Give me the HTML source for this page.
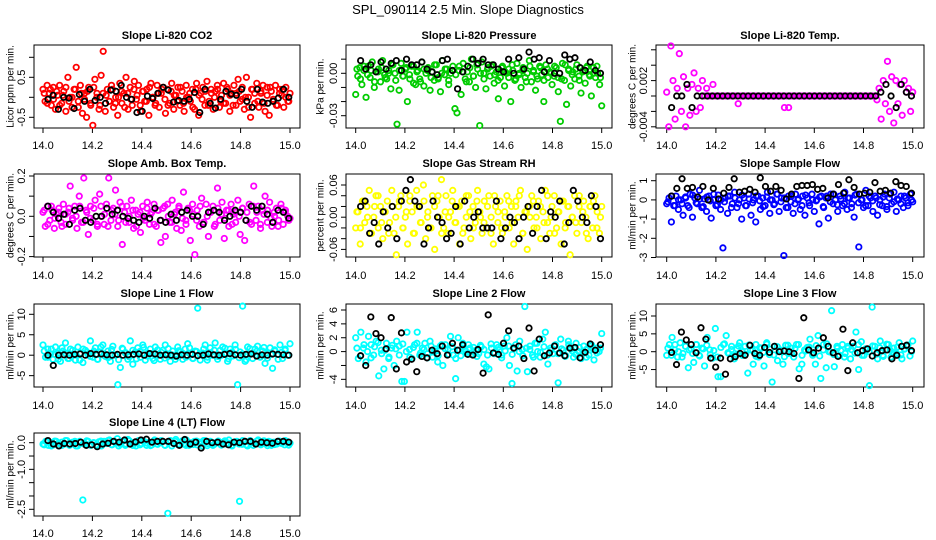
<!DOCTYPE html>
<html><head><meta charset="utf-8"><style>
html,body{margin:0;padding:0;background:#fff}
svg{display:block;font-family:"Liberation Sans",sans-serif}
</style></head><body>
<svg id="c" width="936" height="540" viewBox="0 0 936 540">
<text x="468" y="14" text-anchor="middle" font-size="13">SPL_090114  2.5 Min. Slope Diagnostics</text>
</svg>
<script>
const xTicks=[14.0,14.2,14.4,14.6,14.8,15.0];
const xTickLabels=["14.0","14.2","14.4","14.6","14.8","15.0"];
const co2Color=[0.2,-0.1,0.3,0.1,-0.2,0.25,-0.3,0.05,0.3,-0.15,0.15,-0.35,0.5,0.0,-0.25,0.2,0.75,-0.1,0.3,-0.4,0.1,-0.5,0.25,-0.2,-0.7,0.45,0.1,-0.3,0.55,1.15,-0.35,0.2,-0.1,0.3,-0.25,0.0,-0.45,0.35,-0.15,0.1,0.5,-0.3,0.25,-0.2,0.4,-0.05,0.3,-0.35,0.15,-0.1,0.2,-0.45,0.35,0.0,-0.2,0.3,-0.25,0.1,0.25,-0.4,0.2,-0.15,0.35,-0.3,0.05,0.25,-0.2,0.15,-0.35,0.3,0.0,-0.1,0.2,-0.3,0.35,-0.45,0.1,0.25,-0.2,0.4,-0.1,0.2,-0.3,0.15,0.3,-0.25,0.05,0.35,-0.15,0.2,-0.35,0.1,0.3,-0.2,0.45,-0.1,0.25,-0.3,0.5,0.0,-0.5,0.2,-0.15,0.35,-0.25,0.1,0.3,-0.35,0.25,-0.45,0.15,-0.1,0.3,-0.2,0.2,0.05,-0.25,0.25,-0.1,0.1];
const co2Band=[0.1,-0.15,0.2,-0.05,0.15,-0.2,0.05,0.25,-0.1,0.0,0.2,-0.25,0.1,-0.05,0.15,-0.15,0.25,0.0,-0.2,0.1,0.05,-0.1,0.2,-0.15,0.0,0.15,-0.25,0.1,-0.05,0.2,0.05,-0.2,0.15,-0.1,0.25,0.0,-0.15,0.1,0.2,-0.05,-0.2,0.15,0.05,-0.1,0.25,-0.15,0.0,0.1,-0.25,0.2,0.05,-0.05,0.15,-0.2,0.1,0.0,0.2,-0.1,-0.15,0.25,0.05,-0.2,0.1,0.15,-0.05,0.0,-0.25,0.2,0.1,-0.1,0.15,-0.15,0.05,0.25,-0.05,-0.2,0.1,0.2,0.0,-0.1];
const co2Black=[-0.05,0.05,-0.3,0.0,-0.02,-0.28,0.07,-0.1,0.2,-0.08,0.0,-0.15,0.18,0.15,0.3,0.0,-0.05,-0.38,-0.35,0.03,-0.03,0.1,0.25,0.18,-0.12,-0.08,-0.1,-0.05,0.12,-0.38,0.2,-0.15,-0.27,-0.05,0.15,0.08,0.05,0.2,-0.1,-0.25,0.2,-0.12,-0.15,-0.1,-0.02,0.2,0.0];
const presColor=[-0.015,-0.002,0.004,-0.008,0.002,-0.017,0.005,-0.003,0.008,-0.01,0.001,0.003,-0.006,0.009,-0.001,-0.004,0.002,-0.011,0.006,0,-0.036,-0.012,0.007,-0.002,0.003,-0.02,-0.001,0.005,-0.007,-0.008,0.002,-0.004,0.008,-0.009,0,0.004,-0.012,0.001,-0.005,0.006,-0.003,-0.013,0.009,-0.001,0.003,-0.008,0,0.005,-0.025,-0.028,0.002,-0.015,0.007,-0.004,0.001,-0.006,0.01,-0.002,-0.01,0.003,-0.037,0.008,0,-0.011,0.004,-0.002,0.006,-0.007,0.001,-0.018,-0.003,0.005,-0.009,0,0.003,-0.02,0.002,-0.005,0.007,-0.001,-0.01,0.004,-0.003,0,0.009,-0.006,0.002,-0.012,-0.004,0.005,-0.001,-0.02,0.006,-0.003,0.001,-0.008,-0.002,0.004,-0.013,-0.034,0.007,-0.005,-0.022,0.003,-0.009,0.001,-0.004,0.006,-0.002,-0.014,0.002,-0.007,0.005,-0.001,-0.016,0.004,-0.003,0,-0.008,-0.023];
const presBand=[0.003,-0.004,0.005,-0.001,0.002,-0.006,0.001,0.004,-0.003,0,0.006,-0.005,0.002,-0.002,0.004,-0.004,0.005,0.001,-0.006,0.003,0.002,-0.003,0.006,-0.004,0,0.003,-0.005,0.002,-0.001,0.005,0.001,-0.006,0.004,-0.002,0.006,0,-0.004,0.003,0.005,-0.001,-0.005,0.004,0.001,-0.003,0.006,-0.004,0,0.002,-0.006,0.005,0.001,-0.002,0.004,-0.005,0.003,0,0.005,-0.003,-0.004,0.006,0.002,-0.001,0.003,-0.005,0.001,0.004,-0.002,0,0.005,-0.003];
const presBlack=[0.009,0.003,0.006,0.001,0.008,0.003,0.007,0.009,0.002,0.01,0.006,0.006,0.008,0.003,0.001,-0.001,0.009,0.01,0.002,-0.011,0.001,0.005,0.01,0.007,0.01,0.006,0.006,0.003,0.001,0.01,0,0.011,0.003,0.015,0.01,0.011,0.001,0.009,0,0,0.013,0.01,0.011,0.004,0.002,0.008,0.002,0];
const tempColor=[0.0005,-0.004,0.0065,0.002,-0.003,0.001,0.0055,-0.002,0.0025,-0.004,0.001,-0.0025,0.0015,0.003,-0.002,0.001,-0.0015,0.002,0,0.001,0,0,0.0015,0,0,0,0,0,0,0,0,0,0,0,-0.001,0,0,0,0,0,0,0,0,0,0,0,0,0,0,0,0,0,0,0,0,0,-0.0015,0,-0.0015,0,0,0,0,0,0,0,0,0,0,0,0,0,0,0,0,0,0,0,0,0,0,0,0,0,0,0,0,0,0,0,0,0,0,0,0,0,0,0,0,0,-0.0005,0.001,-0.003,0.002,-0.001,0.0045,-0.002,0.0025,-0.0035,0.002,-0.001,0.0015,-0.0025,0.002,0.0005,0.001,-0.002,0.0005];
const tempBand=[];
const tempBlack=[-0.0015,0,0,0.0015,-0.0015,0,0,0,0,0,0,0,0,0,0,0,0,0,0,0,0,0,0,0,0,0,0,0,0,0,0,0,0,0,0,0,0,0,0,0,0,0.0005,0.0015,0,-0.0015,0.0015,0.0005,0];
const ambColor=[0.02,-0.05,0.05,-0.02,0.03,-0.06,0.01,0.04,-0.03,0.06,-0.04,0.02,0.15,-0.01,0.05,-0.06,0.1,-0.03,0.19,0.03,-0.09,0.05,-0.02,0.08,-0.05,0.11,0.0,-0.04,0.06,0.19,-0.02,0.04,0.13,-0.05,0.07,-0.14,0.02,0.05,-0.03,0.08,-0.06,0.03,0.01,-0.08,0.05,-0.02,0.07,-0.04,0.02,0.06,-0.05,0.03,-0.13,0.04,-0.1,0.06,-0.03,0.08,0.01,-0.06,0.05,-0.07,0.12,-0.02,0.04,-0.12,0.06,-0.19,0.03,-0.05,0.09,-0.03,0.06,-0.1,0.02,0.05,-0.04,0.14,-0.02,0.07,-0.11,0.03,-0.05,0.06,0.01,-0.03,0.08,-0.09,0.04,-0.12,0.02,0.06,-0.04,0.15,-0.02,0.05,-0.06,0.03,0.1,-0.03,0.07,-0.05,0.02,0.04,-0.02,0.06,-0.04,0.03,0.0,-0.01];
const ambBand=[0.03,-0.04,0.05,-0.01,0.02,-0.05,0.01,0.04,-0.02,0.0,0.05,-0.03,0.02,-0.01,0.04,-0.04,0.05,0.01,-0.05,0.03,0.01,-0.02,0.05,-0.03,0.0,0.03,-0.05,0.02,-0.01,0.04,0.01,-0.04,0.03,-0.02,0.05,0.0,-0.03,0.02,0.04,-0.01,-0.04,0.03,0.01,-0.02,0.05,-0.03,0.0,0.02,-0.05,0.04,0.01,-0.01,0.03,-0.04,0.02,0.0,0.04,-0.02,-0.03,0.05,0.02,-0.04,0.01,0.03,-0.01,0.0,-0.05,0.04,0.02,-0.02];
const ambBlack=[0.05,0.02,-0.01,0.01,-0.04,0.03,0.04,-0.02,-0.03,0.0,0.0,0.04,0.01,0.03,0.0,-0.01,-0.02,-0.03,0.0,-0.01,0.04,-0.02,-0.03,0.01,-0.02,0.02,0.03,0.0,0.0,-0.04,0.02,0.03,0.02,-0.02,0.0,0.03,0.02,-0.02,0.05,0.03,0.05,0.01,-0.03,0.03,0.02,-0.01];
const rhColor=[-0.02,0.01,-0.05,0.03,-0.01,0.02,0.05,-0.03,0.0,0.04,-0.02,0.02,-0.04,0.01,0.03,-0.01,0.05,-0.03,-0.07,0.02,0.04,-0.02,0.0,-0.05,0.03,0.01,-0.03,0.05,0.02,-0.01,0.06,-0.04,0.01,-0.02,0.04,-0.06,0.03,0.0,0.07,-0.02,0.04,-0.03,0.01,0.05,-0.01,0.02,-0.05,0.03,-0.02,0.0,0.04,-0.04,0.02,-0.01,0.05,0.01,-0.03,0.03,-0.02,0.04,0.0,-0.05,0.02,-0.01,0.03,-0.03,0.01,0.04,-0.02,0.02,-0.05,0.03,0.0,0.05,-0.03,0.01,-0.06,0.02,0.04,-0.02,0.0,0.03,-0.04,0.01,0.05,-0.01,-0.03,0.02,0.04,-0.02,0.01,-0.05,0.03,-0.01,0.02,-0.07,0.0,0.04,-0.03,0.02,-0.01,0.03,0.0,-0.04,0.02,-0.02,0.04,0.01,-0.03,0.02];
const rhBand=[0.01,-0.02,0.03,0.0,-0.03,0.02,0.04,-0.01,0.01,-0.03,0.02,0.0,0.03,-0.02,0.01,0.04,-0.03,0.02,-0.01,0.03,0.0,-0.02,0.02,0.04,-0.03,0.01,0.0,0.03,-0.01,0.02,-0.03,0.04,0.01,-0.02,0.03,0.0,-0.01,0.02,-0.03,0.04,0.01,-0.02,0.0,0.03,-0.01,0.02,0.04,-0.03,0.01,0.0,0.03,-0.02,0.02,-0.01,0.04,0.0,-0.03,0.01,0.03,-0.02,0.02,0.0,-0.01,0.04,0.01,-0.03,0.02,0.03,-0.02,0.0];
const rhBlack=[0.02,0.03,-0.03,-0.01,-0.05,0.01,-0.02,0.02,-0.04,0.03,0.05,0.07,0.03,0.02,-0.05,-0.02,0.03,0.0,-0.01,-0.04,-0.03,0.02,-0.05,0.03,-0.02,0.0,0.01,-0.02,-0.02,-0.02,0.03,-0.04,-0.02,0.0,-0.01,-0.04,0.0,0.02,-0.03,0.02,0.05,-0.04,0.01,0.0,0.03,-0.05,-0.01,0.05,0.03,0.0,-0.01,0.04,0.02,-0.04];
const flowColor=[-0.2,0.1,-1.15,-0.3,0.2,-0.5,0.0,-0.8,0.15,-0.3,0.3,-0.9,0.1,-0.2,0.5,-0.4,0.05,-0.6,0.2,-0.95,0.0,-0.3,0.25,-0.5,-2.5,0.1,-0.7,0.2,-0.2,0.4,-0.4,0.0,-1.0,0.1,-0.3,0.3,-0.8,0.0,-1.15,0.2,-0.5,0.1,-0.3,0.4,-0.7,0.0,-0.2,0.3,-0.6,0.1,-2.9,-0.4,0.2,-0.1,-0.7,0.3,0.0,-0.5,0.2,-0.8,0.1,-0.3,0.3,-0.6,0.0,-1.25,0.2,-0.4,0.1,-0.95,0.3,-0.2,0.0,-0.6,0.2,-0.3,0.4,-0.5,0.1,-0.2,-0.9,0.3,-2.45,0.0,-0.4,0.5,-0.3,0.1,-0.6,0.2,-0.8,0.0,-0.3,0.3,-0.5,0.1,-0.2,0.4,-0.6,0.0,0.2,-0.4,0.1,-0.3,0.3,-0.1];
const flowBand=[-0.1,0.2,-0.3,0.0,-0.2,0.1,-0.4,0.25,-0.15,0.05,-0.35,0.15,-0.05,0.3,-0.25,0.0,-0.1,0.2,-0.4,0.1,-0.2,0.25,-0.3,0.05,-0.15,0.2,-0.05,-0.35,0.15,0.0,-0.25,0.3,-0.1,0.1,-0.4,0.2,-0.2,0.05,-0.3,0.25,-0.15,0.0,-0.05,0.15,-0.35,0.2,-0.1,0.3,-0.25,0.05,-0.2,0.1,-0.4,0.25,-0.15,0.0,-0.3,0.2,-0.05,0.1,-0.25,0.15,-0.35,0.3,-0.1,0.05,-0.2,0.2,-0.15,0.0];
const flowBlack=[0.2,0.6,1.1,0.6,0.65,0.15,0.7,0.0,0.6,0.05,0.35,0.65,1.1,0.4,0.45,0.55,0.4,1.15,0.7,0.45,0.7,0.5,0.05,0.3,0.7,0.75,0.75,0.8,0.55,0.6,0.1,0.3,0.8,0.35,1.05,0.65,0.3,0.35,0.4,0.9,0.45,0.5,0.35,0.95,0.75,0.7,0.35];
const line1Color=[2.5,-0.5,1.5,0.3,-1.0,2.0,0.5,-1.5,1.0,3.0,-0.8,1.5,0.0,-1.2,2.0,0.5,-1.8,1.2,0.2,3.5,-0.5,1.8,-1.0,0.8,2.5,-0.3,1.0,-1.5,2.2,0.0,-7.2,-3.0,1.5,0.5,-1.0,3.5,-2.2,0.8,1.8,-0.5,2.5,-1.2,0.5,1.5,-0.8,2.0,0.2,-1.0,1.2,2.5,0.0,-1.5,1.0,-0.3,2.0,0.8,-1.0,1.5,2.8,0.3,-0.8,1.0,11.5,-1.2,0.5,2.5,-0.5,1.8,0.0,3.0,-1.0,1.2,2.0,0.5,-1.5,1.5,-0.2,2.5,-7.2,0.8,12.0,-1.5,2.0,0.3,-0.8,1.5,2.2,-0.5,1.0,-2.0,0.5,1.8,-3.2,1.0,0.2,2.5,-0.8,1.2,0.0,2.8];
const line1Band=[1.0,-0.5,1.5,0.2,-1.0,1.8,0.5,-0.8,1.2,0.0,-1.2,1.5,0.8,-0.3,1.0,-1.0,2.0,0.3,-0.6,1.4,0.0,-1.1,1.7,0.6,-0.4,1.2,-0.9,0.9,1.9,-0.2,0.4,-1.3,1.3,0.7,-0.7,1.6,0.1,-1.0,1.1,0.5,-0.5,1.8,-0.8,0.9,0.2,1.5,-1.2,0.6,1.2,-0.3,0.0,1.7,-0.9,0.8,1.4,-0.6,0.3,-1.1,1.6,0.5,1.0,-0.4,1.9,-0.7,0.2,1.3,-1.0,0.7,1.5,0.0];
const line1Black=[0,-2.5,0,0.1,0,0.2,0.3,0,0.4,0.2,0.3,0.1,0,0.2,0,0.1,0.2,0.3,0,0.4,0.3,0,0.1,0,-0.2,0.1,0,0.2,-0.1,0,0.3,0.1,0,0.2,0.4,0.1,0,0.2,0.3,-0.2,0.1,0,0.3,0.2,0.1,0];
const line2Color=[2.0,-1.0,2.8,0.5,-1.5,2.2,1.0,-0.5,1.5,-3.5,0.2,-2.5,1.2,-0.8,0.5,-2.0,1.5,0.8,-4.3,-4.3,2.8,0.3,-1.0,1.0,2.8,-0.5,0.5,1.2,-0.3,1.5,-0.8,0.4,-1.5,0.8,-2.0,1.0,0.3,2.2,-0.5,-3.9,2.0,-0.6,0.8,0.0,1.0,-0.4,0.6,0.2,-0.3,0.7,-1.8,-2.2,-2.5,0.5,-0.3,1.0,0.2,-0.5,0.8,2.0,-2.0,-4.6,0.5,-2.8,1.5,0.3,6.5,-2.9,0.8,-0.5,1.2,0.0,-0.8,1.8,2.8,-1.8,0.5,-0.3,1.0,-4.5,1.8,0.2,-0.6,1.5,0.4,-0.8,1.2,0.0,-1.0,0.8,0.3,-0.5,1.0,-1.2,0.5,0.0,2.6];
const line2Band=[0.5,-0.6,1.0,0.0,-0.9,0.7,1.3,-0.3,0.2,-1.0,0.9,0.4,-0.5,1.1,0.0,-0.8,0.6,1.2,-0.2,0.3,-0.9,0.8,0.1,-0.6,1.0,0.4,-0.4,0.7,-1.0,0.2,1.2,-0.3,0.5,0.0,-0.7,0.9,0.3,-0.5,1.1,-0.2,0.6,-0.9,0.1,0.8,-0.4,1.0,0.0,-0.6,0.5,0.3,-0.8,1.2,-0.1,0.7,-0.5,0.2,0.9,-0.3,0.4,-0.7,1.0,0.1,-0.4,0.6,0.0,-0.8,0.8,0.3,-0.2,0.5];
const line2Black=[-0.6,-2.0,5.0,2.6,2.0,0.4,4.9,-2.5,2.7,-1.5,-1.1,-2.9,-0.7,-0.9,0.2,-0.3,0.8,-0.5,1.2,0.2,1.0,-0.4,-0.5,0.3,-3.1,5.3,-0.2,-0.4,1.2,3.0,0.5,0.8,-1.0,3.4,-2.8,1.8,-0.6,-0.2,0.8,-0.2,-0.6,0.5,0.6,-0.9,-0.1,1.1,0.2,1.0];
const line3Color=[-1.0,2.0,4.0,0.5,-1.5,2.5,-0.5,1.5,-4.5,0.8,-3.0,2.0,-1.0,1.0,-4.0,4.0,0.5,-1.8,6.5,-7.0,-7.0,2.0,4.5,-0.5,1.5,-2.0,0.8,2.5,-1.0,1.5,-6.0,0.5,-3.5,2.0,-1.5,1.0,-4.0,2.5,-0.8,-8.5,1.5,-2.5,0.5,-3.5,1.8,-0.5,1.0,-1.5,2.0,-4.8,-3.5,0.5,1.2,3.5,-1.0,-3.5,4.5,-7.5,2.0,-4.5,0.0,11.5,-4.2,1.5,-1.0,2.0,-0.5,1.0,-2.0,1.5,5.5,-5.0,2.8,-1.0,0.5,-9.5,12.5,1.5,-2.0,3.0,-1.0,0.5,2.0,-1.5,1.0,-0.5,2.5,-2.0,0.8,1.5,-1.2,3.0];
const line3Band=[1.0,-1.0,2.0,0.0,-1.5,1.5,0.5,-0.5,2.0,-1.2,0.8,1.8,-0.8,0.3,-1.5,1.2,2.2,-0.3,0.6,-1.1,1.6,0.0,-0.7,1.9,0.4,-1.3,1.1,-0.2,2.1,0.7,-0.9,1.4,0.1,-1.4,1.8,-0.5,0.9,2.0,-1.0,0.2,1.3,-0.6,1.7,-1.2,0.5,2.2,-0.1,-0.8,1.0,0.3,-1.5,1.5,0.6,-0.4,2.0,-1.0,0.8,0.0,1.6,-0.7,1.1,-1.3,2.1,0.4,-0.2,1.3,-0.9,0.7,1.9,0.0];
const line3Black=[-0.2,-3.6,5.5,3.3,2.0,-0.3,6.7,3.5,-1.8,-4.3,-1.8,-6.3,-2.0,-1.4,-0.5,-1.0,1.8,-0.5,-1.0,1.2,-0.2,1.5,0.0,0.2,0.0,-0.5,-7.5,9.5,0.5,-0.3,1.0,3.9,1.5,-0.3,-1.3,6.3,-5.3,2.5,-0.3,0.3,0.8,-1.2,-0.3,0.3,0.5,-2.0,-1.0,1.5,1.8,0.3];
const line4Color=[-0.05,0.05,-0.1,0.0,-0.08,0.05,-0.12,0.02,-0.05,0.08,-0.1,0.0,0.05,-0.12,0.03,-2.15,-0.05,0.05,-0.1,0.0,-0.08,0.03,-0.12,0.05,-0.03,0.1,-0.08,0.02,0.15,-0.05,0.05,-0.1,0.12,-0.05,0.0,-0.12,0.08,-0.03,0.05,-0.1,0.02,-0.08,0.1,-0.05,0.0,0.05,-0.1,-2.65,0.08,-0.02,0.12,-0.08,0.03,-0.05,0.1,-0.1,0.0,0.05,-0.08,0.02,-0.12,0.08,-0.03,0.05,-0.1,0.0,0.06,-0.08,0.03,-0.05,0.1,-0.1,0.0,0.05,-2.2,-0.06,0.04,-0.12,0.08,0.0,-0.05,0.1,-0.08,0.03,-0.03,0.05,-0.1,0.02,-0.05,0.06,0.0,-0.08,0.04,-0.02];
const line4Band=[-0.08,0.04,-0.12,0.06,-0.02,-0.1,0.08,-0.06,0.02,-0.12,0.05,-0.04,0.07,-0.09,0.0,-0.11,0.06,-0.03,0.08,-0.07,0.03,-0.12,0.05,-0.05,0.07,-0.1,0.01,-0.08,0.06,-0.02,-0.11,0.04,-0.06,0.08,-0.09,0.02,-0.12,0.05,-0.04,0.07,-0.1,0.0,-0.07,0.06,-0.03,0.08,-0.11,0.03,-0.06,0.05,-0.09,0.07,-0.02,-0.12,0.04,-0.05,0.08,-0.08,0.01,-0.1,0.06,-0.04,0.07,-0.11,0.02,-0.07,0.05,-0.03,0.08,-0.09];
const line4Black=[0.08,-0.05,-0.12,-0.03,-0.05,-0.03,0.02,-0.1,-0.08,-0.15,-0.05,-0.02,0.05,0.02,0.1,-0.05,0.03,0.1,0.13,0.02,0.05,0.05,0.05,-0.03,-0.1,0.12,-0.05,0.02,-0.2,0.05,0.0,0.02,-0.05,-0.08,0.02,0.0,0.05,0.05,-0.05,0.02,0.0,-0.02,0.05,0.05,0.02];

const NS="http://www.w3.org/2000/svg";
const svg=document.getElementById('c');
const cols=[{L:34,R:300,x0:43,x1:290,yl:10},{L:346,R:612,x0:355.7,x1:601.7,yl:320},{L:656,R:924,x0:666.7,x1:912.7,yl:632}];
const rows=[{T:45,B:128,tt:39,xl:149},{T:174,B:257,tt:167,xl:279},{T:304,B:387,tt:297,xl:409},{T:433,B:516,tt:426,xl:537}];
function mk(tag,attrs,parent){const e=document.createElementNS(NS,tag);for(const k in attrs)e.setAttribute(k,attrs[k]);(parent||svg).appendChild(e);return e;}
function panel(name,title,ylab,c,r,v0,y0,v1,y1,yt,ylabs,color,colored,band,black){
  const C=cols[c],R=rows[r];
  const g=mk('g',{});
  
  
  const sx=v=>C.x0+(v-14)*(C.x1-C.x0);
  const sy=v=>y0+(v-v0)*(y1-y0)/(v1-v0);
  const t=mk('text',{x:(C.L+C.R)/2,y:R.tt,'text-anchor':'middle','font-size':11,'font-weight':'bold'},g);t.textContent=title;
  
  
  const yl=mk('text',{transform:`translate(${C.yl},${(R.T+R.B)/2}) rotate(-90)`,'text-anchor':'middle','font-size':10,dy:'0.35em'},g);yl.textContent=ylab;
  
  
  const box=mk('rect',{x:C.L,y:R.T,width:C.R-C.L,height:R.B-R.T,fill:'none',stroke:'#000','stroke-width':1},g);
  
  
  xTicks.forEach((v,i)=>{const x=sx(v);
    mk('line',{x1:x,x2:x,y1:R.B,y2:R.B+5,stroke:'#000'},g);
    const l=mk('text',{x:x,y:R.xl,'text-anchor':'middle','font-size':11},g);l.textContent=xTickLabels[i];
    
    });
  yt.forEach(v=>{const y=sy(v);mk('line',{x1:C.L-5,x2:C.L,y1:y,y2:y,stroke:'#000'},g);});
  ylabs.forEach(s=>{const y=sy(parseFloat(s));
    const l=mk('text',{transform:`translate(${C.L-9},${y}) rotate(-90)`,'text-anchor':'middle','font-size':11},g);l.textContent=s;
    
    });
  const pts=mk('g',{fill:'none','stroke-width':1.8},g);
  band.forEach((v,i)=>{const p=mk('circle',{cx:sx(14.005+0.99*i/(band.length-1)),cy:sy(v),r:2.7,stroke:color},pts);
    
    });
  colored.forEach((v,i)=>{const p=mk('circle',{cx:sx(14+i/(colored.length-1)),cy:sy(v),r:2.7,stroke:color},pts);
    
    });
  black.forEach((v,i)=>{const p=mk('circle',{cx:sx(14.02+0.975*i/(black.length-1)),cy:sy(v),r:2.7,stroke:'#000'},pts);
    
    });
}
panel('co2','Slope Li-820 CO2','Licor ppm per min.',0,0,0,97.3,0.5,77.3,[1,0.5,0,-0.5],['0.5','-0.5'],'#ff0000',co2Color,co2Band,co2Black);
panel('pressure','Slope Li-820 Pressure','kPa per min.',1,0,0,73.3,-0.03,115.7,[0.01,0,-0.01,-0.02,-0.03],['0.00','-0.03'],'#00cc00',presColor,presBand,presBlack);
panel('li820-temp','Slope Li-820 Temp.','degrees C per min.',2,0,0,96,0.002,80.6,[0.006,0.004,0.002,0,-0.002,-0.004],['0.002','-0.004'],'#ff00ff',tempColor,tempBand,tempBlack);
panel('amb-temp','Slope Amb. Box Temp.','degrees C per min.',0,1,0,216.3,0.2,176,[0.2,0.1,0,-0.1,-0.2],['0.2','0.0','-0.2'],'#ff00ff',ambColor,ambBand,ambBlack);
panel('rh','Slope Gas Stream RH','percent per min.',1,1,0,217.2,0.06,185,[0.06,0.04,0.02,0,-0.02,-0.04,-0.06],['0.06','0.00','-0.06'],'#ffff00',rhColor,rhBand,rhBlack);
panel('sample-flow','Slope Sample Flow','ml/min per min.',2,1,0,199.9,1,180.7,[1,0,-1,-2,-3],['1','0','-1','-2','-3'],'#0000ff',flowColor,flowBand,flowBlack);
panel('line1','Slope Line 1 Flow','ml/min per min.',0,2,0,355.2,10,314.3,[10,5,0,-5],['10','5','0','-5'],'#00ffff',line1Color,line1Band,line1Black);
panel('line2','Slope Line 2 Flow','ml/min per min.',1,2,0,351.6,6,310,[6,4,2,0,-2,-4],['6','4','2','0','-4'],'#00ffff',line2Color,line2Band,line2Black);
panel('line3','Slope Line 3 Flow','ml/min per min.',2,2,0,351.7,10,316,[10,5,0,-5],['10','5','0','-5'],'#00ffff',line3Color,line3Band,line3Black);
panel('line4','Slope Line 4 (LT) Flow','ml/min per min.',0,3,0,442.7,-2.5,509.3,[0,-0.5,-1,-1.5,-2,-2.5],['0.0','-1.0','-2.5'],'#00ffff',line4Color,line4Band,line4Black);
</script>
</body></html>
